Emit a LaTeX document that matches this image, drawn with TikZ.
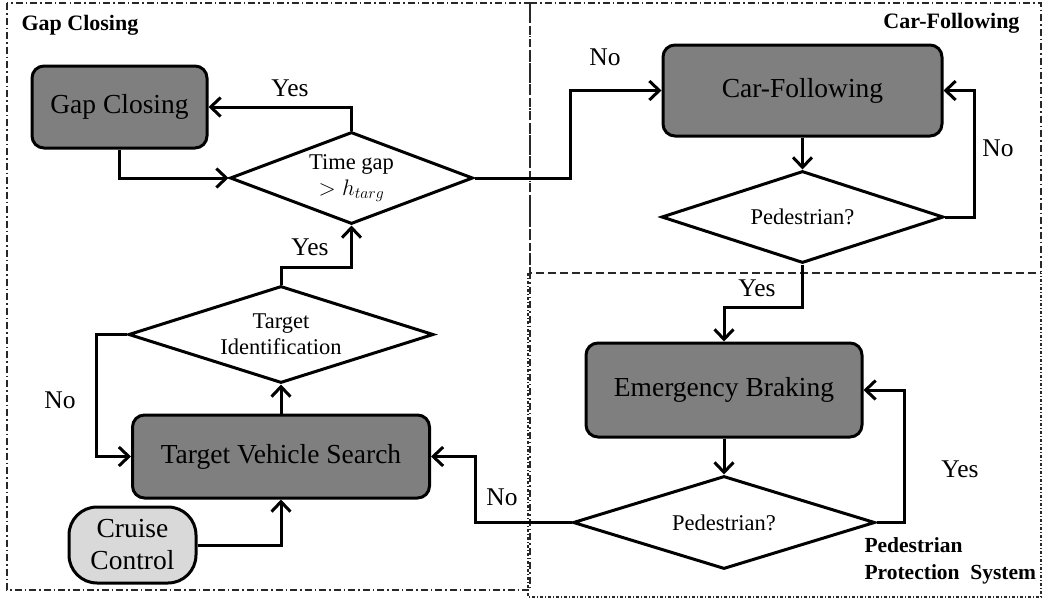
\documentclass[tikz,border=0pt]{standalone}
\usepackage{fix-cm}
\usepackage{fontspec}
\setmainfont{Liberation Serif}
\usepackage{tikz}
\usetikzlibrary{positioning, shapes.geometric, arrows.meta}

\definecolor{boxgray}{RGB}{127,127,127}
\definecolor{cruisegray}{RGB}{217,217,217}
\definecolor{framegray}{RGB}{40,40,40}

\begin{document}
\begin{tikzpicture}[
        x=1pt, y=-1pt,
        box/.style={rectangle, draw=black, line width=3pt, fill=boxgray, rounded corners=12pt, inner sep=0pt, align=center, font=\fontsize{27.5}{30}\selectfont},
        decision/.style={diamond, draw=black, line width=3pt, fill=white, inner sep=0pt, align=center, font=\fontsize{22.5}{26}\selectfont},
        startbox/.style={rectangle, draw=black, line width=3pt, fill=cruisegray, rounded corners=28pt, inner sep=0pt, align=center, font=\fontsize{27.5}{32}\selectfont},
        arrow/.style={-{Straight Barb[length=10pt, width=19pt]}, line width=3pt},
        lbl/.style={font=\fontsize{25.5}{30}\selectfont},
        region/.style={font=\fontsize{22}{27}\selectfont\bfseries},
        dashdot/.style={draw=framegray, line width=1.1pt, dash pattern=on 7pt off 3pt on 1.5pt off 3pt},
        dashlong/.style={draw=framegray, line width=1.1pt, dash pattern=on 8pt off 4pt},
        dashfine/.style={draw=framegray, line width=1.1pt, dash pattern=on 3pt off 2pt on 1pt off 2pt}
        ]
        \useasboundingbox (0,0) rectangle (1044,600);

        % region frames
        \draw[dashdot] (7,3) rectangle (530,590);
        \draw[dashdot] (530,3) -- (1041,3) -- (1041,273);
        \draw[dashlong] (530,3) -- (530,273) -- (1041,273);
        \draw[dashfine] (528,273) -- (528,597) -- (1041,597) -- (1041,273);

        \node[region, anchor=west] (gaptitle) at (18,25) {Gap Closing};
        \node[region, anchor=east] (cftitle) at (1023,23) {Car-Following};
        \node[region, anchor=west, align=left, font=\fontsize{21.5}{27}\selectfont\bfseries] (ppstitle) at (861,561) {Pedestrian\\Protection\ \ System};

        % nodes
        \node[box, minimum width=175pt, minimum height=82pt] (gapbox) at (119.5,107) {Gap Closing};
        \node[decision, aspect=2.64, minimum width=243pt, minimum height=92pt] (timegap) at (351.5,178) {Time gap\\$>h_{targ}$};
        \node[box, minimum width=279pt, minimum height=91pt] (cfbox) at (802.5,90.5) {Car-Following};
        \node[decision, aspect=3.07, minimum width=282pt, minimum height=92pt, below=32pt of cfbox] (pedcf) {Pedestrian?};
        \node[box, minimum width=276pt, minimum height=94pt] (ebbox) at (724,390) {Emergency Braking};
        \node[decision, aspect=3.25, minimum width=302pt, minimum height=93pt, below=36pt of ebbox] (pedeb) {Pedestrian?};
        \node[decision, aspect=3.14, minimum width=305pt, minimum height=97pt] (tidia) at (281,334.5) {Target\\Identification};
        \node[box, minimum width=297pt, minimum height=83pt, below=29pt of tidia] (tvsbox) {Target Vehicle Search};
        \node[startbox, minimum width=127pt, minimum height=76pt] (cruise) at (132.5,545) {Cruise\\Control};

        % connectors
        \draw[arrow] (timegap.north) |- (gapbox.east);
        \draw[arrow] (gapbox.south) |- (timegap.west);
        \draw[arrow] (timegap.east) -- ++(96,0) |- (cfbox.west);
        \draw[arrow] (cfbox.south) -- (pedcf.north);
        \draw[arrow] (pedcf.east) -- ++(29,0) |- (cfbox.east);
        \draw[arrow] (pedcf.south) -- ++(0,43) -| (ebbox.north);
        \draw[arrow] (ebbox.south) -- (pedeb.north);
        \draw[arrow] (pedeb.east) -- ++(28,0) |- (ebbox.east);
        \draw[arrow] (pedeb.west) -- ++(-96,0) |- (tvsbox.east);
        \draw[arrow] (cruise.east) -| (tvsbox.south);
        \draw[arrow] (tvsbox.north) -- (tidia.south);
        \draw[arrow] (tidia.west) -- ++(-31,0) |- (tvsbox.west);
        \draw[arrow] (tidia.north) -- ++(0,-17) -| (timegap.south);

        % branch labels
        \node[lbl] (yesgap) at (290,88) {Yes};
        \node[lbl] (nocf) at (605,57) {No};
        \node[lbl] (noloop) at (998,148) {No};
        \node[lbl] (yeseb) at (757,288) {Yes};
        \node[lbl] (yesloop) at (960,469) {Yes};
        \node[lbl] (nosearch) at (502,497) {No};
        \node[lbl] (noident) at (60,400) {No};
        \node[lbl] (yesident) at (310,247) {Yes};
    \end{tikzpicture}
\end{document}
